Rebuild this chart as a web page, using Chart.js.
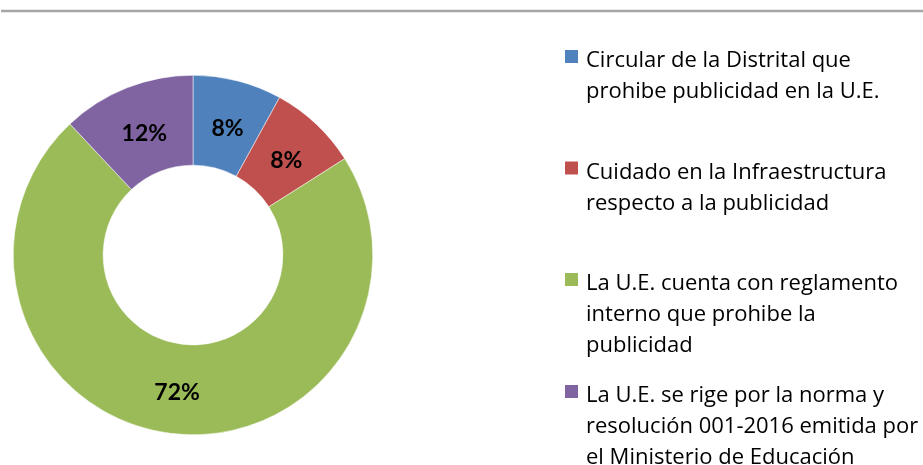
<!DOCTYPE html>
<html>
<head>
<meta charset="utf-8">
<script src="https://cdn.jsdelivr.net/npm/chart.js@4/dist/chart.umd.min.js"></script>
<style>
html,body{margin:0;padding:0;background:#fff;}
#wrap{position:relative;width:923px;height:465px;}
</style>
</head>
<body>
<div id="wrap"><canvas id="c" width="923" height="465"></canvas></div>
<script>
const categories = [
  ["Circular de la Distrital que", "prohibe publicidad en la U.E."],
  ["Cuidado en la Infraestructura", "respecto a la publicidad"],
  ["La U.E. cuenta con reglamento", "interno que prohibe la", "publicidad"],
  ["La U.E. se rige por la norma y", "resolución 001-2016 emitida por", "el Ministerio de Educación"]
];
const values = [8, 8, 72, 12];
const colors = ["#4F81BD", "#C0504D", "#9BBB59", "#8064A2"];
const legendBaselines = [67, 178.5, 290, 402];

const topLine = {
  id: 'topLine',
  beforeDraw(chart) {
    const ctx = chart.ctx;
    ctx.save();
    ctx.strokeStyle = '#a6a6a6';
    ctx.lineWidth = 2.5;
    ctx.beginPath();
    ctx.moveTo(1, 11);
    ctx.lineTo(923, 11);
    ctx.stroke();
    ctx.restore();
  }
};

const pctLabels = {
  id: 'pctLabels',
  afterDatasetsDraw(chart) {
    const ctx = chart.ctx;
    const meta = chart.getDatasetMeta(0);
    const total = values.reduce((a, b) => a + b, 0);
    ctx.save();
    ctx.font = 'bold 23px Lato';
    ctx.fillStyle = '#000';
    ctx.textAlign = 'center';
    ctx.textBaseline = 'middle';
    meta.data.forEach((arc, i) => {
      const p = arc.tooltipPosition();
      ctx.fillText(Math.round(values[i] / total * 100) + '%', p.x + 1, p.y + 4);
    });
    ctx.restore();
  }
};

const sideLegend = {
  id: 'sideLegend',
  afterDraw(chart) {
    const ctx = chart.ctx;
    ctx.save();
    ctx.font = '22px "Open Sans"';
    ctx.textBaseline = 'alphabetic';
    ctx.textAlign = 'left';
    categories.forEach((lines, i) => {
      const b = legendBaselines[i];
      ctx.fillStyle = colors[i];
      ctx.fillRect(565, b - 17, 13, 13);
      ctx.fillStyle = '#000';
      lines.forEach((ln, j) => {
        ctx.fillText(ln, 586, b + j * 31);
      });
    });
    ctx.restore();
  }
};

new Chart(document.getElementById('c'), {
  type: 'doughnut',
  data: {
    labels: categories.map(l => l.join(' ')),
    datasets: [{
      data: values,
      backgroundColor: colors,
      borderColor: '#ffffff',
      borderWidth: 0.5
    }]
  },
  options: {
    responsive: false,
    animation: false,
    cutout: '50%',
    rotation: 0,
    layout: { padding: { left: 13, right: 550, top: 75, bottom: 30 } },
    plugins: { legend: { display: false }, tooltip: { enabled: false } }
  },
  plugins: [topLine, pctLabels, sideLegend]
});
</script>
</body>
</html>
